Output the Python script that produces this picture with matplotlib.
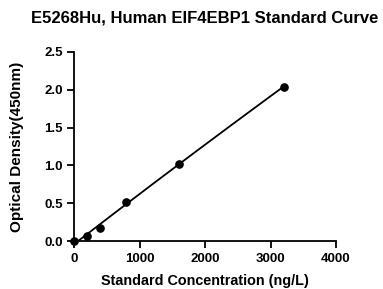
import numpy as np
import matplotlib
matplotlib.use('Agg')
from matplotlib import pyplot

# Standard curve data
conc    = [0, 200, 400, 800, 1600, 3200]          # ng/L
density = [0.0, 0.07, 0.17, 0.52, 1.02, 2.04]     # OD 450nm

pyplot.rcParams['font.family'] = ['Liberation Sans', 'DejaVu Sans']
pyplot.rcParams['font.weight'] = 'bold'

fig = pyplot.figure(figsize=[3.83, 2.89], dpi=100)
ax = fig.add_axes([74 / 383, 1 - 241 / 289, 262 / 383, 189 / 289])

# Smooth fit curve through the points
coef = np.polyfit(conc, density, 2)
xfit = np.linspace(40, 3200, 200)
ax.plot(xfit, np.polyval(coef, xfit), color='black', linewidth=1.3, clip_on=False)
ax.plot(conc, density, 'o', color='black', markersize=5.2, clip_on=False, zorder=3)

ax.set_xlim(0, 4000)
ax.set_ylim(0, 2.5)
ax.set_xticks([0, 1000, 2000, 3000, 4000])
ax.set_yticks([0.0, 0.5, 1.0, 1.5, 2.0, 2.5])
ax.set_yticklabels(['0.0', '0.5', '1.0', '1.5', '2.0', '2.5'])

for side in ['top', 'right']:
    ax.spines[side].set_visible(False)
for side in ['left', 'bottom']:
    ax.spines[side].set_linewidth(1.3)

ax.tick_params(direction='out', length=5, width=1.3, labelsize=9.5, pad=3)
ax.tick_params(axis='x', pad=4)
for lbl in ax.get_xticklabels() + ax.get_yticklabels():
    lbl.set_fontweight('bold')

ax.set_xlabel('Standard Concentration (ng/L)', fontsize=10.4, fontweight='bold')
ax.set_ylabel('Optical Density(450nm)', fontsize=11, fontweight='bold')
ax.xaxis.set_label_coords(0.5 + (205 - 205) / 262, -0.175)
ax.yaxis.set_label_coords(-0.19, 0.5 + (241 - 146.5 - 94.5) / 189)
fig.text(205 / 383, 1 - 18 / 289, 'E5268Hu, Human EIF4EBP1 Standard Curve',
         ha='center', va='center', fontsize=12, fontweight='bold')

fig.savefig('out.png', dpi=100)
